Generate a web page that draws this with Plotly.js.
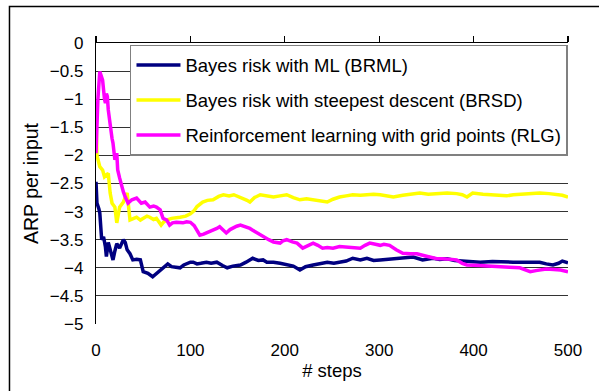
<!DOCTYPE html>
<html><head><meta charset="utf-8">
<script src="https://cdn.plot.ly/plotly-3.0.1.min.js"></script>
<style>html,body{margin:0;padding:0;background:#fff}#chart{width:599px;height:391px}</style>
</head><body><div id="chart"></div>
<script>
const seriesNames = ["Bayes risk with ML (BRML)", "Bayes risk with steepest descent (BRSD)", "Reinforcement learning with grid points (RLG)"];
const seriesColors = ["#000080", "#FFFF00", "#FF00FF"];
const xTicks = [0, 100, 200, 300, 400, 500];

const brmlSteps = [0,1,3,4,6,8,10,11,13,15,18,20,22,25,29,31,33,36,39,43,47,50,55,60,64,68,72,76,80,86,89,93,97,100,103,107,111,117,122,128,134,139,145,153,159,166,172,177,181,188,195,202,209,216,222,230,238,245,252,258,265,272,280,287,294,301,310,318,327,336,346,352,357,364,372,380,386,395,407,420,430,442,455,470,477,484,490,494,500];
const brmlValues = [-2.47,-2.85,-2.95,-3.02,-3.5,-3.45,-3.63,-3.8,-3.55,-3.7,-3.86,-3.7,-3.57,-3.65,-3.5,-3.55,-3.68,-3.75,-3.86,-3.85,-3.86,-4.07,-4.1,-4.16,-4.1,-4.04,-4.0,-3.93,-3.98,-3.99,-4.0,-3.95,-3.92,-3.9,-3.9,-3.93,-3.92,-3.9,-3.92,-3.9,-3.96,-4.0,-3.97,-3.95,-3.9,-3.83,-3.87,-3.86,-3.9,-3.9,-3.92,-3.95,-3.97,-4.04,-3.98,-3.95,-3.93,-3.9,-3.92,-3.9,-3.88,-3.83,-3.86,-3.83,-3.87,-3.86,-3.85,-3.83,-3.82,-3.81,-3.86,-3.84,-3.83,-3.85,-3.84,-3.87,-3.88,-3.88,-3.9,-3.89,-3.9,-3.9,-3.9,-3.9,-3.93,-3.95,-3.92,-3.88,-3.91];

const brsdSteps = [0,1,4,7,9,11,13,15,17,20,22,25,29,33,36,40,43,47,50,54,57,61,64,69,72,75,80,85,89,95,100,104,107,113,118,124,130,135,141,146,151,156,160,163,168,174,181,188,195,202,209,216,223,230,238,245,251,258,265,272,280,287,294,301,308,315,325,335,343,352,362,372,382,388,393,399,410,420,428,435,442,450,460,470,480,488,494,500];
const brsdValues = [-1.3,-2.0,-2.2,-2.26,-2.38,-2.35,-2.32,-2.67,-2.85,-2.92,-3.2,-2.92,-2.83,-2.67,-3.15,-3.12,-3.1,-3.15,-3.12,-3.08,-3.1,-3.14,-3.12,-3.24,-3.18,-3.15,-3.12,-3.1,-3.1,-3.08,-3.04,-2.98,-2.91,-2.83,-2.8,-2.79,-2.73,-2.7,-2.72,-2.7,-2.73,-2.76,-2.8,-2.83,-2.75,-2.7,-2.72,-2.74,-2.72,-2.7,-2.75,-2.79,-2.77,-2.79,-2.8,-2.83,-2.78,-2.74,-2.72,-2.7,-2.71,-2.7,-2.69,-2.7,-2.72,-2.74,-2.71,-2.69,-2.67,-2.69,-2.68,-2.67,-2.68,-2.7,-2.74,-2.67,-2.69,-2.7,-2.7,-2.72,-2.7,-2.69,-2.68,-2.67,-2.68,-2.69,-2.71,-2.74];

const rlgSteps = [0,1,2,4,6,7,9,10,11,12,13,15,17,18,20,22,23,25,27,29,31,34,38,43,48,52,57,61,64,68,71,75,78,81,85,89,92,96,100,104,107,110,114,117,121,124,128,131,135,138,142,145,149,153,157,160,163,166,171,177,183,188,195,198,202,208,213,219,225,230,235,240,245,251,258,266,273,280,285,290,296,301,305,311,318,325,333,340,347,354,361,366,372,377,382,388,393,400,407,415,428,438,449,455,460,466,472,477,485,492,500];
const rlgValues = [-1.96,-1.5,-1.0,-0.51,-0.6,-0.66,-1.0,-1.07,-0.9,-0.95,-1.19,-1.49,-1.7,-1.78,-2.08,-1.96,-2.26,-2.4,-2.56,-2.65,-2.74,-2.85,-2.79,-2.76,-2.85,-2.83,-2.92,-2.9,-2.92,-2.97,-3.12,-3.15,-3.24,-3.2,-3.19,-3.2,-3.2,-3.18,-3.19,-3.25,-3.33,-3.42,-3.4,-3.38,-3.35,-3.33,-3.3,-3.27,-3.33,-3.38,-3.32,-3.29,-3.26,-3.24,-3.26,-3.27,-3.3,-3.33,-3.38,-3.45,-3.5,-3.54,-3.56,-3.52,-3.5,-3.54,-3.56,-3.65,-3.6,-3.56,-3.6,-3.65,-3.64,-3.65,-3.62,-3.63,-3.63,-3.65,-3.6,-3.56,-3.58,-3.6,-3.58,-3.6,-3.68,-3.74,-3.75,-3.75,-3.78,-3.81,-3.84,-3.84,-3.84,-3.85,-3.86,-3.92,-3.95,-3.95,-3.96,-3.97,-3.99,-3.99,-4.0,-4.04,-4.07,-4.05,-4.04,-4.02,-4.03,-4.04,-4.07];

const FONT = "Liberation Sans, Arial, sans-serif";
const stepsList = [brmlSteps, brsdSteps, rlgSteps];
const valuesList = [brmlValues, brsdValues, rlgValues];
const traces = seriesNames.map((n, i) => ({
  type: "scatter", mode: "lines", name: n,
  x: stepsList[i], y: valuesList[i],
  line: {color: seriesColors[i], width: 3.5},
  legendgroup: "g" + i
}));
// dummy trace for top axis ticks
traces.push({type: "scatter", mode: "lines", x: [0, 500], y: [0, 0], xaxis: "x2", yaxis: "y", showlegend: false, hoverinfo: "skip", line: {color: "rgba(0,0,0,0)", width: 0}});

const layout = {
  width: 599, height: 391,
  margin: {l: 96, r: 31, t: 43, b: 67},
  paper_bgcolor: "#fff", plot_bgcolor: "#fff",
  font: {family: FONT, size: 17, color: "#000"},
  showlegend: true,
  legend: {
    x: 0.072, y: 0.993, xanchor: "left", yanchor: "top",
    bgcolor: "#fff", bordercolor: "#808080", borderwidth: 1.5,
    font: {family: FONT, size: 18.5, color: "#000"},
    traceorder: "grouped", tracegroupgap: 8, itemwidth: 44
  },
  xaxis: {
    range: [0, 500], tickvals: xTicks, ticktext: xTicks.map(String),
    showgrid: false, zeroline: false, showline: false,
    ticks: "outside", ticklen: 11, tickcolor: "rgba(0,0,0,0)",
    tickfont: {family: FONT, size: 17},
    title: {text: "# steps", font: {family: FONT, size: 18.5}, standoff: 4}
  },
  xaxis2: {
    range: [0, 500], overlaying: "x", side: "top", anchor: "y",
    tickvals: xTicks, showticklabels: false, ticks: "outside", ticklen: 6, tickwidth: 1.2, tickcolor: "#000",
    showline: true, linecolor: "#000", linewidth: 1.2, showgrid: false, zeroline: false
  },
  yaxis: {
    range: [-5, 0], dtick: 0.5, tick0: 0,
    showgrid: true, gridcolor: "#333", gridwidth: 1.2,
    zeroline: false, showline: true, linecolor: "#000", linewidth: 1.2,
    ticks: "outside", ticklen: 8, tickcolor: "rgba(0,0,0,0)",
    tickfont: {family: FONT, size: 17},
    title: {text: "ARP per input", font: {family: FONT, size: 19.5}, standoff: 6}
  },
  shapes: [
    {type: "rect", xref: "paper", yref: "paper", x0: -0.1833, x1: 3, y0: -3, y1: 1.1299,
     line: {color: "#000", width: 1.5}, fillcolor: "rgba(0,0,0,0)", layer: "below"}
  ]
};
Plotly.newPlot("chart", traces, layout, {staticPlot: true, displayModeBar: false});
</script></body></html>
